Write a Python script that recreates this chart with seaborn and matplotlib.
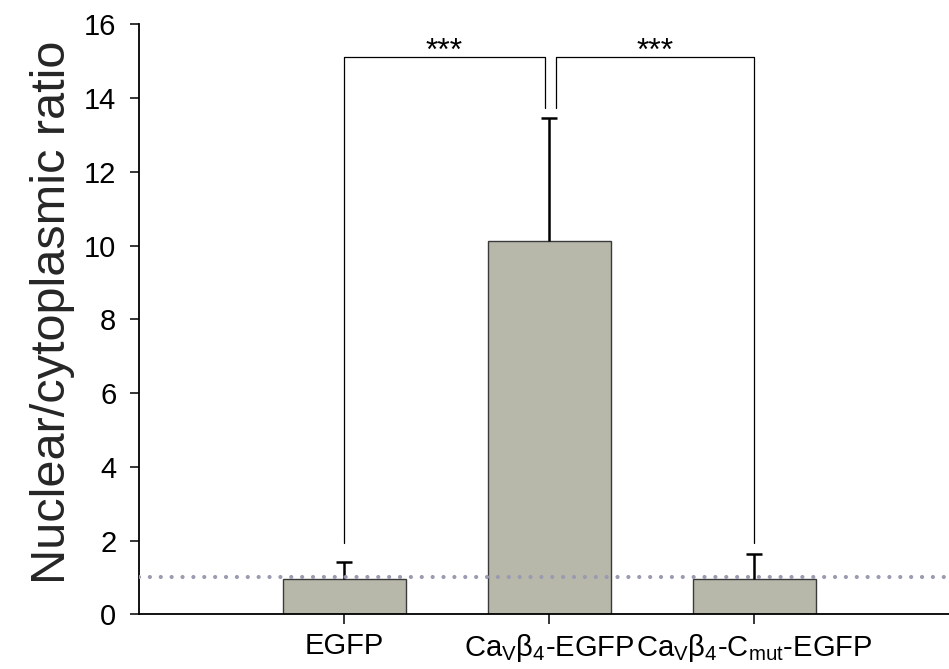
import matplotlib
matplotlib.use("Agg")
import matplotlib.pyplot as plt
import seaborn as sns
import numpy as np
import pandas as pd

categories = ["EGFP",
              r"Ca$_\mathregular{V}$β$_\mathregular{4}$-EGFP",
              r"Ca$_\mathregular{V}$β$_\mathregular{4}$-C$_\mathregular{mut}$-EGFP"]
means = [0.95, 10.13, 0.95]
sem_upper = [0.46, 3.34, 0.68]
yticks = [0, 2, 4, 6, 8, 10, 12, 14, 16]
ref_level = 1.0
# significance brackets: (x_left, x_right, y_top, y_left_end, y_right_end, label)
brackets = [(0.0, 0.978, 15.1, 1.93, 13.74, "***"),
            (1.032, 2.0, 15.1, 13.74, 1.94, "***")]

sns.set_style("white")
plt.rcParams['font.family'] = ['Liberation Sans', 'DejaVu Sans']
plt.rcParams['mathtext.fontset'] = 'custom'
plt.rcParams['mathtext.rm'] = 'Liberation Sans'

fig = plt.figure(figsize=(9.49, 6.69), dpi=100)
ax = fig.add_axes([0.1468, 0.0818, 0.8532, 0.8819])

df = pd.DataFrame({"group": categories, "ratio": means})
sns.barplot(data=df, x="group", y="ratio", color="#b8b8aa", width=0.6,
            edgecolor="#3a3a3a", linewidth=1.0, ax=ax, saturation=1)

xs = np.arange(len(categories))
_, caps, _ = ax.errorbar(xs, means, yerr=[np.zeros(len(means)), sem_upper],
                         fmt="none", ecolor="black", elinewidth=1.8,
                         capsize=6, capthick=1.8, zorder=4)
caps[0].set_visible(False)

ax.axhline(ref_level, color="#9a9ab0", lw=3, linestyle=(0, (0.01, 2.6)),
           dash_capstyle="round", zorder=5)

for xl, xr, yt, yl, yr, lab in brackets:
    ax.plot([xl, xl, xr, xr], [yl, yt, yt, yr], color="black", lw=0.9,
            zorder=3, clip_on=False)
    ax.text((xl + xr) / 2, 15.04, lab, ha="center", va="baseline",
            fontsize=23, color="black")

ax.set_xlim(-1.0, 2.95)
ax.set_ylim(0, 16)
ax.set_yticks(yticks)
ax.set_yticklabels([str(t) for t in yticks])
ax.tick_params(axis="y", direction="out", length=6.5, width=1.1, pad=10,
               labelsize=21, left=True, colors="black")
ax.tick_params(axis="x", direction="out", length=7, width=1.1, pad=6,
               labelsize=21, bottom=True, colors="black")
ax.set_xlabel("")
ax.set_ylabel("Nuclear/cytoplasmic ratio", fontsize=35)
ax.yaxis.set_label_coords(-0.08, 0.512)
for s in ["top", "right"]:
    ax.spines[s].set_visible(False)
for s in ["left", "bottom"]:
    ax.spines[s].set_linewidth(1.3)
    ax.spines[s].set_color("black")

fig.savefig("out.png", dpi=100)
